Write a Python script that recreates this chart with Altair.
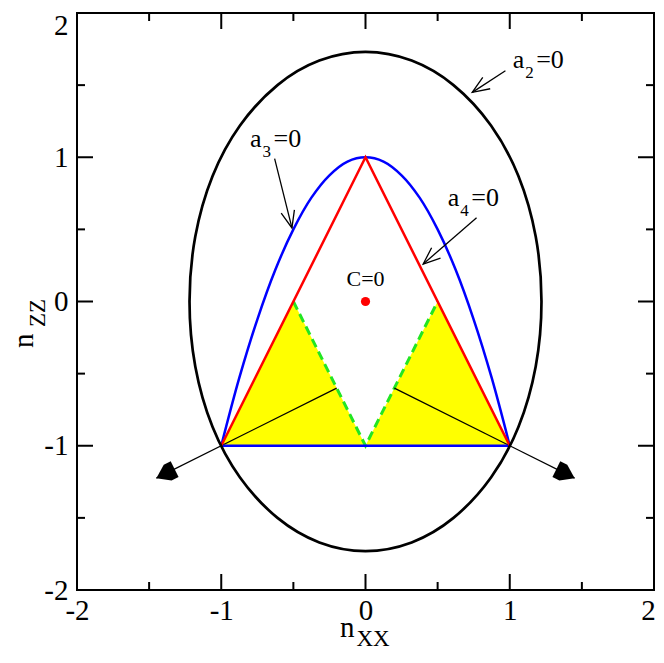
import altair as alt
import pandas as pd
import numpy as np

# ---------------- data ----------------
# ellipse a2=0 (closed curve), points every 15 degrees
ell_x = [1.22, 1.18, 1.06, 0.87, 0.61, 0.32, 0.00, -0.32, -0.61, -0.87, -1.06, -1.18,
         -1.22, -1.18, -1.06, -0.87, -0.61, -0.32, 0.00, 0.32, 0.61, 0.87, 1.06, 1.18]
ell_y = [0.00, 0.45, 0.87, 1.22, 1.50, 1.67, 1.73, 1.67, 1.50, 1.22, 0.87, 0.45,
         0.00, -0.45, -0.87, -1.22, -1.50, -1.67, -1.73, -1.67, -1.50, -1.22, -0.87, -0.45]
# blue curve a3=0
par_x = [-1.0, -0.875, -0.75, -0.625, -0.5, -0.375, -0.25, -0.125, 0.0,
         0.125, 0.25, 0.375, 0.5, 0.625, 0.75, 0.875, 1.0]
par_y = [-1.0, -0.53, -0.125, 0.22, 0.5, 0.72, 0.875, 0.97, 1.0,
         0.97, 0.875, 0.72, 0.5, 0.22, -0.125, -0.53, -1.0]
base_x = [-1.0, 1.0]
base_y = [-1.0, -1.0]
# red triangle a4=0
tri_x = [-1.0, 0.0, 1.0]
tri_y = [-1.0, 1.0, -1.0]
# yellow regions
fill_x = [-1.0, -0.5, 0.0, 0.5, 1.0]
fill_y = [-1.0, 0.0, -1.0, 0.0, -1.0]
fill_base = -1.0
# green dashed line
grn_x = [-0.5, 0.0, 0.5]
grn_y = [0.0, -1.0, 0.0]
# black rays with filled arrow heads
ray_x0 = [-0.2, 0.2]
ray_y0 = [-0.6, -0.6]
ray_x1 = [-1.45, 1.45]
ray_y1 = [-1.225, -1.225]
# C=0 point
pt_x = [0.0]
pt_y = [0.0]
c_lab_x = [0.0]
c_lab_y = [0.105]
c_lab = ["C=0"]
# annotation labels a2, a3, a4
lab_x = [1.02, -0.80, 0.57]
lab_y = [1.62, 1.07, 0.66]
lab_sub = ["2", "3", "4"]
# annotation arrows (tail -> tip)
arr_x0 = [0.97, -0.63, 0.77]
arr_y0 = [1.60, 0.99, 0.58]
arr_x1 = [0.74, -0.51, 0.40]
arr_y1 = [1.45, 0.51, 0.26]
# axes
tick_labels = [-2, -1, 0, 1, 2]
major_ticks = [-1, 0, 1]
minor_ticks = [-1.5, -0.5, 0.5, 1.5]

# ---------------- chart ----------------
W, H = 577, 577
FONT = "Liberation Serif"
sc = alt.Scale(domain=[-2, 2], nice=False, zero=False)
ax_common = dict(title=None, values=tick_labels, ticks=False, tickSize=0, domain=False,
                 grid=False, labelFont=FONT, labelFontSize=29, labelColor="black",
                 labelExpr="'' + datum.value", labelFlush=False, labelOverlap=False,
                 labelBound=False)
xaxis = alt.Axis(labelPadding=29, labelBaseline="alphabetic",
                 labelOffset={"condition": {"test": "datum.value == 2", "value": -6},
                              "value": 0},
                 **ax_common)
yaxis = alt.Axis(labelPadding=9, labelBaseline="middle",
                 labelOffset={"condition": {"test": "datum.value == 2", "value": 12},
                              "value": 0},
                 **ax_common)


def X(f):
    return alt.X(f, type="quantitative", scale=sc, axis=xaxis)


def Y(f):
    return alt.Y(f, type="quantitative", scale=sc, axis=yaxis)


def angle_of(x0, y0, x1, y1):
    return [float(np.degrees(np.arctan2(b - a, d - c))) % 360
            for a, b, c, d in zip(x0, x1, y0, y1)]


layers = []

df_fill = pd.DataFrame({"x": fill_x, "y": fill_y, "y0": fill_base})
layers.append(alt.Chart(df_fill).mark_area(color="#ffff00", opacity=1, orient="vertical")
              .encode(x=X("x"), y=Y("y"), y2=alt.Y2("y0")))

df_grn = pd.DataFrame({"x": grn_x, "y": grn_y, "i": range(len(grn_x))})
layers.append(alt.Chart(df_grn).mark_line(color="#22e622", strokeWidth=3, strokeDash=[9, 5])
              .encode(x=X("x"), y=Y("y"), order="i:Q"))

df_ray = pd.DataFrame({"x": ray_x0, "y": ray_y0, "x2": ray_x1, "y2": ray_y1})
layers.append(alt.Chart(df_ray).mark_rule(color="black", strokeWidth=1.3)
              .encode(x=X("x"), y=Y("y"), x2=alt.X2("x2"), y2=alt.Y2("y2")))
df_rayhead = pd.DataFrame({"x": ray_x1, "y": ray_y1,
                           "ang": angle_of(ray_x0, ray_y0, ray_x1, ray_y1)})
layers.append(alt.Chart(df_rayhead).mark_point(shape="M0,0L0.9,1.3L0.9,2.1L-0.9,2.1L-0.9,1.3Z",
                                               filled=True, size=380, color="black",
                                               opacity=1)
              .encode(x=X("x"), y=Y("y"), angle=alt.Angle("ang:Q", scale=None)))

df_par = pd.DataFrame({"x": par_x, "y": par_y, "i": range(len(par_x))})
layers.append(alt.Chart(df_par).mark_line(color="#0000ff", strokeWidth=2.5,
                                          interpolate="catmull-rom")
              .encode(x=X("x"), y=Y("y"), order="i:Q"))
df_base = pd.DataFrame({"x": base_x, "y": base_y, "i": range(2)})
layers.append(alt.Chart(df_base).mark_line(color="#0000ff", strokeWidth=2.5)
              .encode(x=X("x"), y=Y("y"), order="i:Q"))

df_tri = pd.DataFrame({"x": tri_x, "y": tri_y, "i": range(3)})
layers.append(alt.Chart(df_tri).mark_line(color="#ff0000", strokeWidth=2.5)
              .encode(x=X("x"), y=Y("y"), order="i:Q"))

df_ell = pd.DataFrame({"x": ell_x, "y": ell_y, "i": range(len(ell_x))})
layers.append(alt.Chart(df_ell).mark_line(color="black", strokeWidth=2.7,
                                          interpolate="cardinal-closed")
              .encode(x=X("x"), y=Y("y"), order="i:Q"))

df_pt = pd.DataFrame({"x": pt_x, "y": pt_y})
layers.append(alt.Chart(df_pt).mark_point(filled=True, size=85, color="#ff0000", opacity=1)
              .encode(x=X("x"), y=Y("y")))
df_c = pd.DataFrame({"x": c_lab_x, "y": c_lab_y, "t": c_lab})
layers.append(alt.Chart(df_c).mark_text(font=FONT, fontSize=22, color="black",
                                        align="center", baseline="alphabetic")
              .encode(x=X("x"), y=Y("y"), text="t:N"))

df_arr = pd.DataFrame({"x": arr_x0, "y": arr_y0, "x2": arr_x1, "y2": arr_y1})
layers.append(alt.Chart(df_arr).mark_rule(color="black", strokeWidth=1.3)
              .encode(x=X("x"), y=Y("y"), x2=alt.X2("x2"), y2=alt.Y2("y2")))
df_arrhead = pd.DataFrame({"x": arr_x1, "y": arr_y1,
                           "ang": angle_of(arr_x0, arr_y0, arr_x1, arr_y1)})
layers.append(alt.Chart(df_arrhead).mark_point(shape="M-0.8,2L0,0L0.8,2", filled=False,
                                               size=289, color="black", strokeWidth=1.3,
                                               opacity=1)
              .encode(x=X("x"), y=Y("y"), angle=alt.Angle("ang:Q", scale=None)))

df_lab = pd.DataFrame({"x": lab_x, "y": lab_y, "a": "a", "s": lab_sub, "r": "=0"})
txt = dict(font=FONT, color="black", align="left", baseline="alphabetic")
layers.append(alt.Chart(df_lab).mark_text(fontSize=26, **txt)
              .encode(x=X("x"), y=Y("y"), text="a:N"))
layers.append(alt.Chart(df_lab).mark_text(fontSize=17, dx=12.5, dy=10, **txt)
              .encode(x=X("x"), y=Y("y"), text="s:N"))
layers.append(alt.Chart(df_lab).mark_text(fontSize=26, dx=23.5, **txt)
              .encode(x=X("x"), y=Y("y"), text="r:N"))

# inward ticks on all four sides
df_major = pd.DataFrame({"v": major_ticks})
df_minor = pd.DataFrame({"v": minor_ticks})
for df_t, ln in ((df_major, 16), (df_minor, 8)):
    rule = alt.Chart(df_t).mark_rule(color="black", strokeWidth=2)
    layers.append(rule.encode(x=X("v"), y=alt.value(H), y2=alt.value(H - ln)))
    layers.append(rule.encode(x=X("v"), y=alt.value(0), y2=alt.value(ln)))
    layers.append(rule.encode(y=Y("v"), x=alt.value(0), x2=alt.value(ln)))
    layers.append(rule.encode(y=Y("v"), x=alt.value(W), x2=alt.value(W - ln)))

# axis titles n_XX and n_ZZ
ttl = dict(font=FONT, color="black", align="left", baseline="alphabetic")
df_one = pd.DataFrame({"k": [0]})
layers.append(alt.Chart(df_one).mark_text(fontSize=29, **ttl)
              .encode(x=alt.value(263), y=alt.value(624), text=alt.value("n")))
layers.append(alt.Chart(df_one).mark_text(fontSize=23, **ttl)
              .encode(x=alt.value(279.5), y=alt.value(633), text=alt.value("XX")))
layers.append(alt.Chart(df_one).mark_text(fontSize=29, angle=270, **ttl)
              .encode(x=alt.value(-44), y=alt.value(335), text=alt.value("n")))
layers.append(alt.Chart(df_one).mark_text(fontSize=23, angle=270, **ttl)
              .encode(x=alt.value(-32), y=alt.value(314), text=alt.value("ZZ")))

chart = (alt.layer(*layers)
         .properties(width=W, height=H, autosize=alt.AutoSizeParams(type="none"),
                     padding={"left": 69, "top": 5, "right": 2, "bottom": 61},
                     background="white")
         .configure_view(stroke="black", strokeWidth=2))

chart.save("out.html", embed_options={"renderer": "svg", "actions": False})
